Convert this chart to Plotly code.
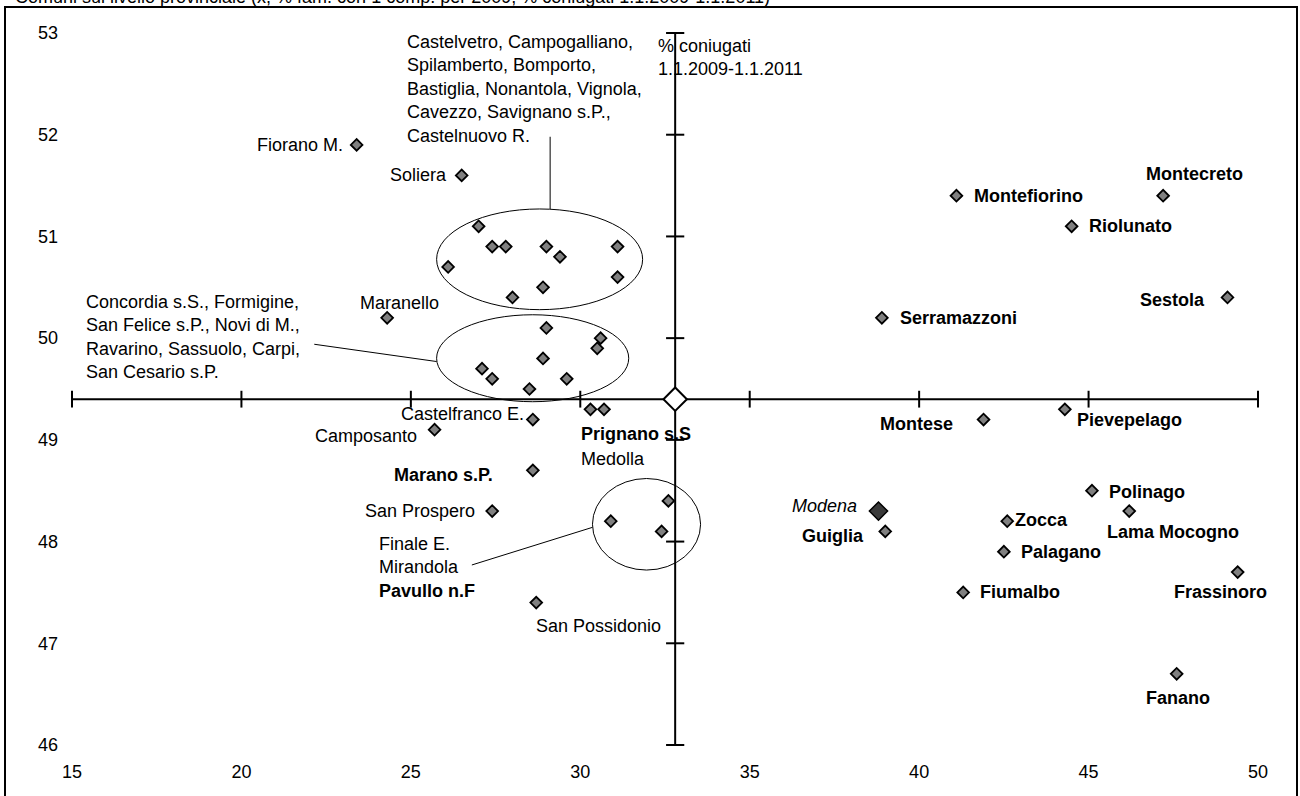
import plotly.graph_objects as go

# ---------------- DATA ----------------
title_text = "Comuni sul livello provinciale (x, % fam. con 1 comp. per 2009, % coniugati 1.1.2009-1.1.2011)"
x_ticks = [15, 20, 25, 30, 35, 40, 45, 50]
y_ticks = [46, 47, 48, 49, 50, 51, 52, 53]

# Provincial reference point (axes crossing)
prov_x = [32.8]
prov_y = [49.4]

# Modena (capoluogo)
modena_name = ["Modena"]
modena_x = [38.8]
modena_y = [48.3]

# Group 1 (upper ellipse)
g1_names = ["Castelvetro", "Campogalliano", "Spilamberto", "Bomporto", "Bastiglia",
            "Nonantola", "Vignola", "Cavezzo", "Savignano s.P.", "Castelnuovo R."]
g1_x = [27.0, 27.4, 27.8, 29.0, 29.4, 31.1, 26.1, 31.1, 28.9, 28.0]
g1_y = [51.1, 50.9, 50.9, 50.9, 50.8, 50.9, 50.7, 50.6, 50.5, 50.4]

# Group 2 (middle ellipse)
g2_names = ["Concordia s.S.", "Formigine", "San Felice s.P.", "Novi di M.",
            "Ravarino", "Sassuolo", "Carpi", "San Cesario s.P."]
g2_x = [29.0, 30.6, 30.5, 28.9, 27.1, 27.4, 29.6, 28.5]
g2_y = [50.1, 50.0, 49.9, 49.8, 49.7, 49.6, 49.6, 49.5]

# Group 3 (lower ellipse)
g3_names = ["Finale E.", "Mirandola", "Pavullo n.F"]
g3_x = [32.6, 30.9, 32.4]
g3_y = [48.4, 48.2, 48.1]

# Individually labelled comuni
ind_names = ["Fiorano M.", "Soliera", "Maranello", "Castelfranco E.", "Camposanto",
             "Prignano s.S", "Medolla", "Marano s.P.", "San Prospero", "San Possidonio",
             "Guiglia", "Montefiorino", "Montecreto", "Riolunato", "Sestola",
             "Serramazzoni", "Montese", "Pievepelago", "Polinago", "Lama Mocogno",
             "Zocca", "Palagano", "Fiumalbo", "Frassinoro", "Fanano"]
ind_x = [23.4, 26.5, 24.3, 28.6, 25.7,
         30.3, 30.7, 28.6, 27.4, 28.7,
         39.0, 41.1, 47.2, 44.5, 49.1,
         38.9, 41.9, 44.3, 45.1, 46.2,
         42.6, 42.5, 41.3, 49.4, 47.6]
ind_y = [51.9, 51.6, 50.2, 49.2, 49.1,
         49.3, 49.3, 48.7, 48.3, 47.4,
         48.1, 51.4, 51.4, 51.1, 50.4,
         50.2, 49.2, 49.3, 48.5, 48.3,
         48.2, 47.9, 47.5, 47.7, 46.7]

# Mountain comuni (shown in bold)
montani = ["Prignano s.S", "Marano s.P.", "Pavullo n.F", "Guiglia", "Montefiorino",
           "Montecreto", "Riolunato", "Sestola", "Serramazzoni", "Montese",
           "Pievepelago", "Polinago", "Lama Mocogno", "Zocca", "Palagano",
           "Fiumalbo", "Frassinoro", "Fanano"]

# ---------------- STYLE / LABEL PLACEMENT ----------------
FONT = "Liberation Sans, Arial, sans-serif"
label_pos = {  # xanchor, xshift(px), yshift(px)
    "Fiorano M.": ("right", -12, 0),
    "Soliera": ("right", -13, 0),
    "Maranello": ("center", 12, 15),
    "Castelfranco E.": ("right", -7, 6),
    "Camposanto": ("right", -16, -6),
    "Prignano s.S": ("left", -11, -25),
    "Medolla": ("left", -25, -50),
    "Marano s.P.": ("right", -38, -5),
    "San Prospero": ("right", -15, 0),
    "San Possidonio": ("left", -2, -23),
    "Guiglia": ("right", -19, -5),
    "Montefiorino": ("left", 16, 0),
    "Montecreto": ("center", 31, 22),
    "Riolunato": ("left", 15, 0),
    "Sestola": ("right", -21, -3),
    "Serramazzoni": ("left", 16, 0),
    "Montese": ("right", -29, -4),
    "Pievepelago": ("left", 10, -11),
    "Polinago": ("left", 15, -1),
    "Lama Mocogno": ("center", 44, -21),
    "Zocca": ("left", 6, 1),
    "Palagano": ("left", 15, 0),
    "Fiumalbo": ("left", 15, 0),
    "Frassinoro": ("center", -17, -20),
    "Fanano": ("center", 1, -24),
}

fig = go.Figure()

# Cross axes (lines)
fig.add_trace(go.Scatter(x=[x_ticks[0], x_ticks[-1]], y=[prov_y[0], prov_y[0]], mode="lines",
                         line=dict(color="black", width=2), hoverinfo="skip", cliponaxis=False))
fig.add_trace(go.Scatter(x=[prov_x[0], prov_x[0]], y=[y_ticks[0], y_ticks[-1]], mode="lines",
                         line=dict(color="black", width=2), hoverinfo="skip", cliponaxis=False))
# tick marks on the crossing axes
fig.add_trace(go.Scatter(x=x_ticks, y=[prov_y[0]] * len(x_ticks), mode="markers",
                         marker=dict(symbol="line-ns", size=12, line=dict(color="black", width=2)),
                         hoverinfo="skip", cliponaxis=False))
fig.add_trace(go.Scatter(x=[prov_x[0]] * len(y_ticks), y=y_ticks, mode="markers",
                         marker=dict(symbol="line-ew", size=13, line=dict(color="black", width=2)),
                         hoverinfo="skip", cliponaxis=False))

# comuni points
all_x = g1_x + g2_x + g3_x + ind_x
all_y = g1_y + g2_y + g3_y + ind_y
all_n = g1_names + g2_names + g3_names + ind_names
fig.add_trace(go.Scatter(x=all_x, y=all_y, text=all_n, mode="markers",
                         marker=dict(symbol="diamond", size=9, color="#808080",
                                     line=dict(color="black", width=1.8)),
                         cliponaxis=False, hovertemplate="%{text}<extra></extra>"))
# Modena
fig.add_trace(go.Scatter(x=modena_x, y=modena_y, text=modena_name, mode="markers",
                         marker=dict(symbol="diamond", size=14, color="#3a3a3a",
                                     line=dict(color="black", width=1.5)),
                         cliponaxis=False, hovertemplate="%{text}<extra></extra>"))
# Provincial point
fig.add_trace(go.Scatter(x=prov_x, y=prov_y, mode="markers",
                         marker=dict(symbol="diamond", size=18, color="white",
                                     line=dict(color="black", width=2)),
                         cliponaxis=False, hoverinfo="skip"))

annotations = []
for n, x, y in zip(ind_names, ind_x, ind_y):
    xa, xs, ys = label_pos[n]
    txt = f"<b>{n}</b>" if n in montani else n
    annotations.append(dict(x=x, y=y, xref="x", yref="y", text=txt, showarrow=False,
                            xanchor=xa, yanchor="middle", xshift=xs, yshift=ys,
                            font=dict(size=18, family=FONT, color="black")))
annotations.append(dict(x=modena_x[0], y=modena_y[0], xref="x", yref="y",
                        text=f"<i>{modena_name[0]}</i>", showarrow=False,
                        xanchor="right", yanchor="middle", xshift=-19, yshift=5,
                        font=dict(size=18, family=FONT, color="black")))

def grp_text(names, per_line):
    lines, i = [], 0
    for k in per_line:
        chunk = names[i:i + k]
        i += k
        lines.append(", ".join(chunk) + ("," if i < len(names) else ""))
    return "<br>".join(lines)

g1_text = grp_text(g1_names, [2, 2, 3, 2, 1])
g2_text = grp_text(g2_names, [2, 2, 3, 1])
g3_text = "<br>".join(f"<b>{n}</b>" if n in montani else n for n in g3_names)

annotations += [
    dict(x=24.82, y=52.45, xref="x", yref="y", text=g1_text, showarrow=False, align="left",
         xanchor="left", yanchor="middle", font=dict(size=18, family=FONT, color="black")),
    dict(x=15.35, y=50.015, xref="x", yref="y", text=g2_text, showarrow=False, align="left",
         xanchor="left", yanchor="middle", font=dict(size=18, family=FONT, color="black")),
    dict(x=24.0, y=47.75, xref="x", yref="y", text=g3_text, showarrow=False, align="left",
         xanchor="left", yanchor="middle", font=dict(size=18, family=FONT, color="black")),
    dict(x=14.95, y=49.195, xref="x", yref="y", text="% fam. con 1 comp.", showarrow=False,
         xanchor="left", yanchor="middle", font=dict(size=18, family=FONT, color="black")),
    dict(x=32.22, y=52.76, xref="x", yref="y", text="% coniugati<br>1.1.2009-1.1.2011",
         showarrow=False, align="left", xanchor="left", yanchor="middle",
         font=dict(size=18, family=FONT, color="black")),
    dict(x=-0.0497, y=(745 - 9) / 712, xref="paper", yref="paper", text=title_text, showarrow=False,
         xanchor="left", yanchor="bottom", font=dict(size=18, family=FONT, color="black")),
]

shapes = [
    # ellipses
    dict(type="circle", xref="x", yref="y", x0=25.76, x1=31.84, y0=50.28, y1=51.27,
         line=dict(color="black", width=1)),
    dict(type="circle", xref="x", yref="y", x0=25.76, x1=31.43, y0=49.375, y1=50.23,
         line=dict(color="black", width=1)),
    dict(type="circle", xref="x", yref="y", x0=30.36, x1=33.55, y0=47.72, y1=48.62,
         line=dict(color="black", width=1)),
    # callout lines
    dict(type="line", xref="x", yref="y", x0=29.11, x1=29.11, y0=51.98, y1=51.27,
         line=dict(color="black", width=1)),
    dict(type="line", xref="x", yref="y", x0=22.15, x1=25.76, y0=49.94, y1=49.77,
         line=dict(color="black", width=1)),
    dict(type="line", xref="x", yref="y", x0=26.80, x1=30.36, y0=47.77, y1=48.14,
         line=dict(color="black", width=1)),
    # chart border
    dict(type="rect", xref="paper", yref="paper", x0=(5 - 72) / 1186, x1=(1297 - 72) / 1186,
         y0=(745 - 830) / 712, y1=(745 - 7) / 712, line=dict(color="black", width=2)),
]

fig.update_layout(
    width=1300, height=796,
    margin=dict(l=72, r=42, t=33, b=51, autoexpand=False),
    plot_bgcolor="white", paper_bgcolor="white", showlegend=False,
    font=dict(family=FONT, size=18, color="black"),
    annotations=annotations, shapes=shapes,
    xaxis=dict(range=[15, 50], tickvals=x_ticks, showgrid=False, zeroline=False, showline=False,
               ticks="", ticklabelstandoff=14, tickfont=dict(size=18, family=FONT, color="black")),
    yaxis=dict(range=[46, 53], tickvals=y_ticks, showgrid=False, zeroline=False, showline=False,
               ticks="", ticklabelstandoff=13, tickfont=dict(size=18, family=FONT, color="black")),
)

fig.write_html("out.html", config={"displayModeBar": False},
               post_script="document.body.style.margin='0';document.body.style.overflow='hidden';")
